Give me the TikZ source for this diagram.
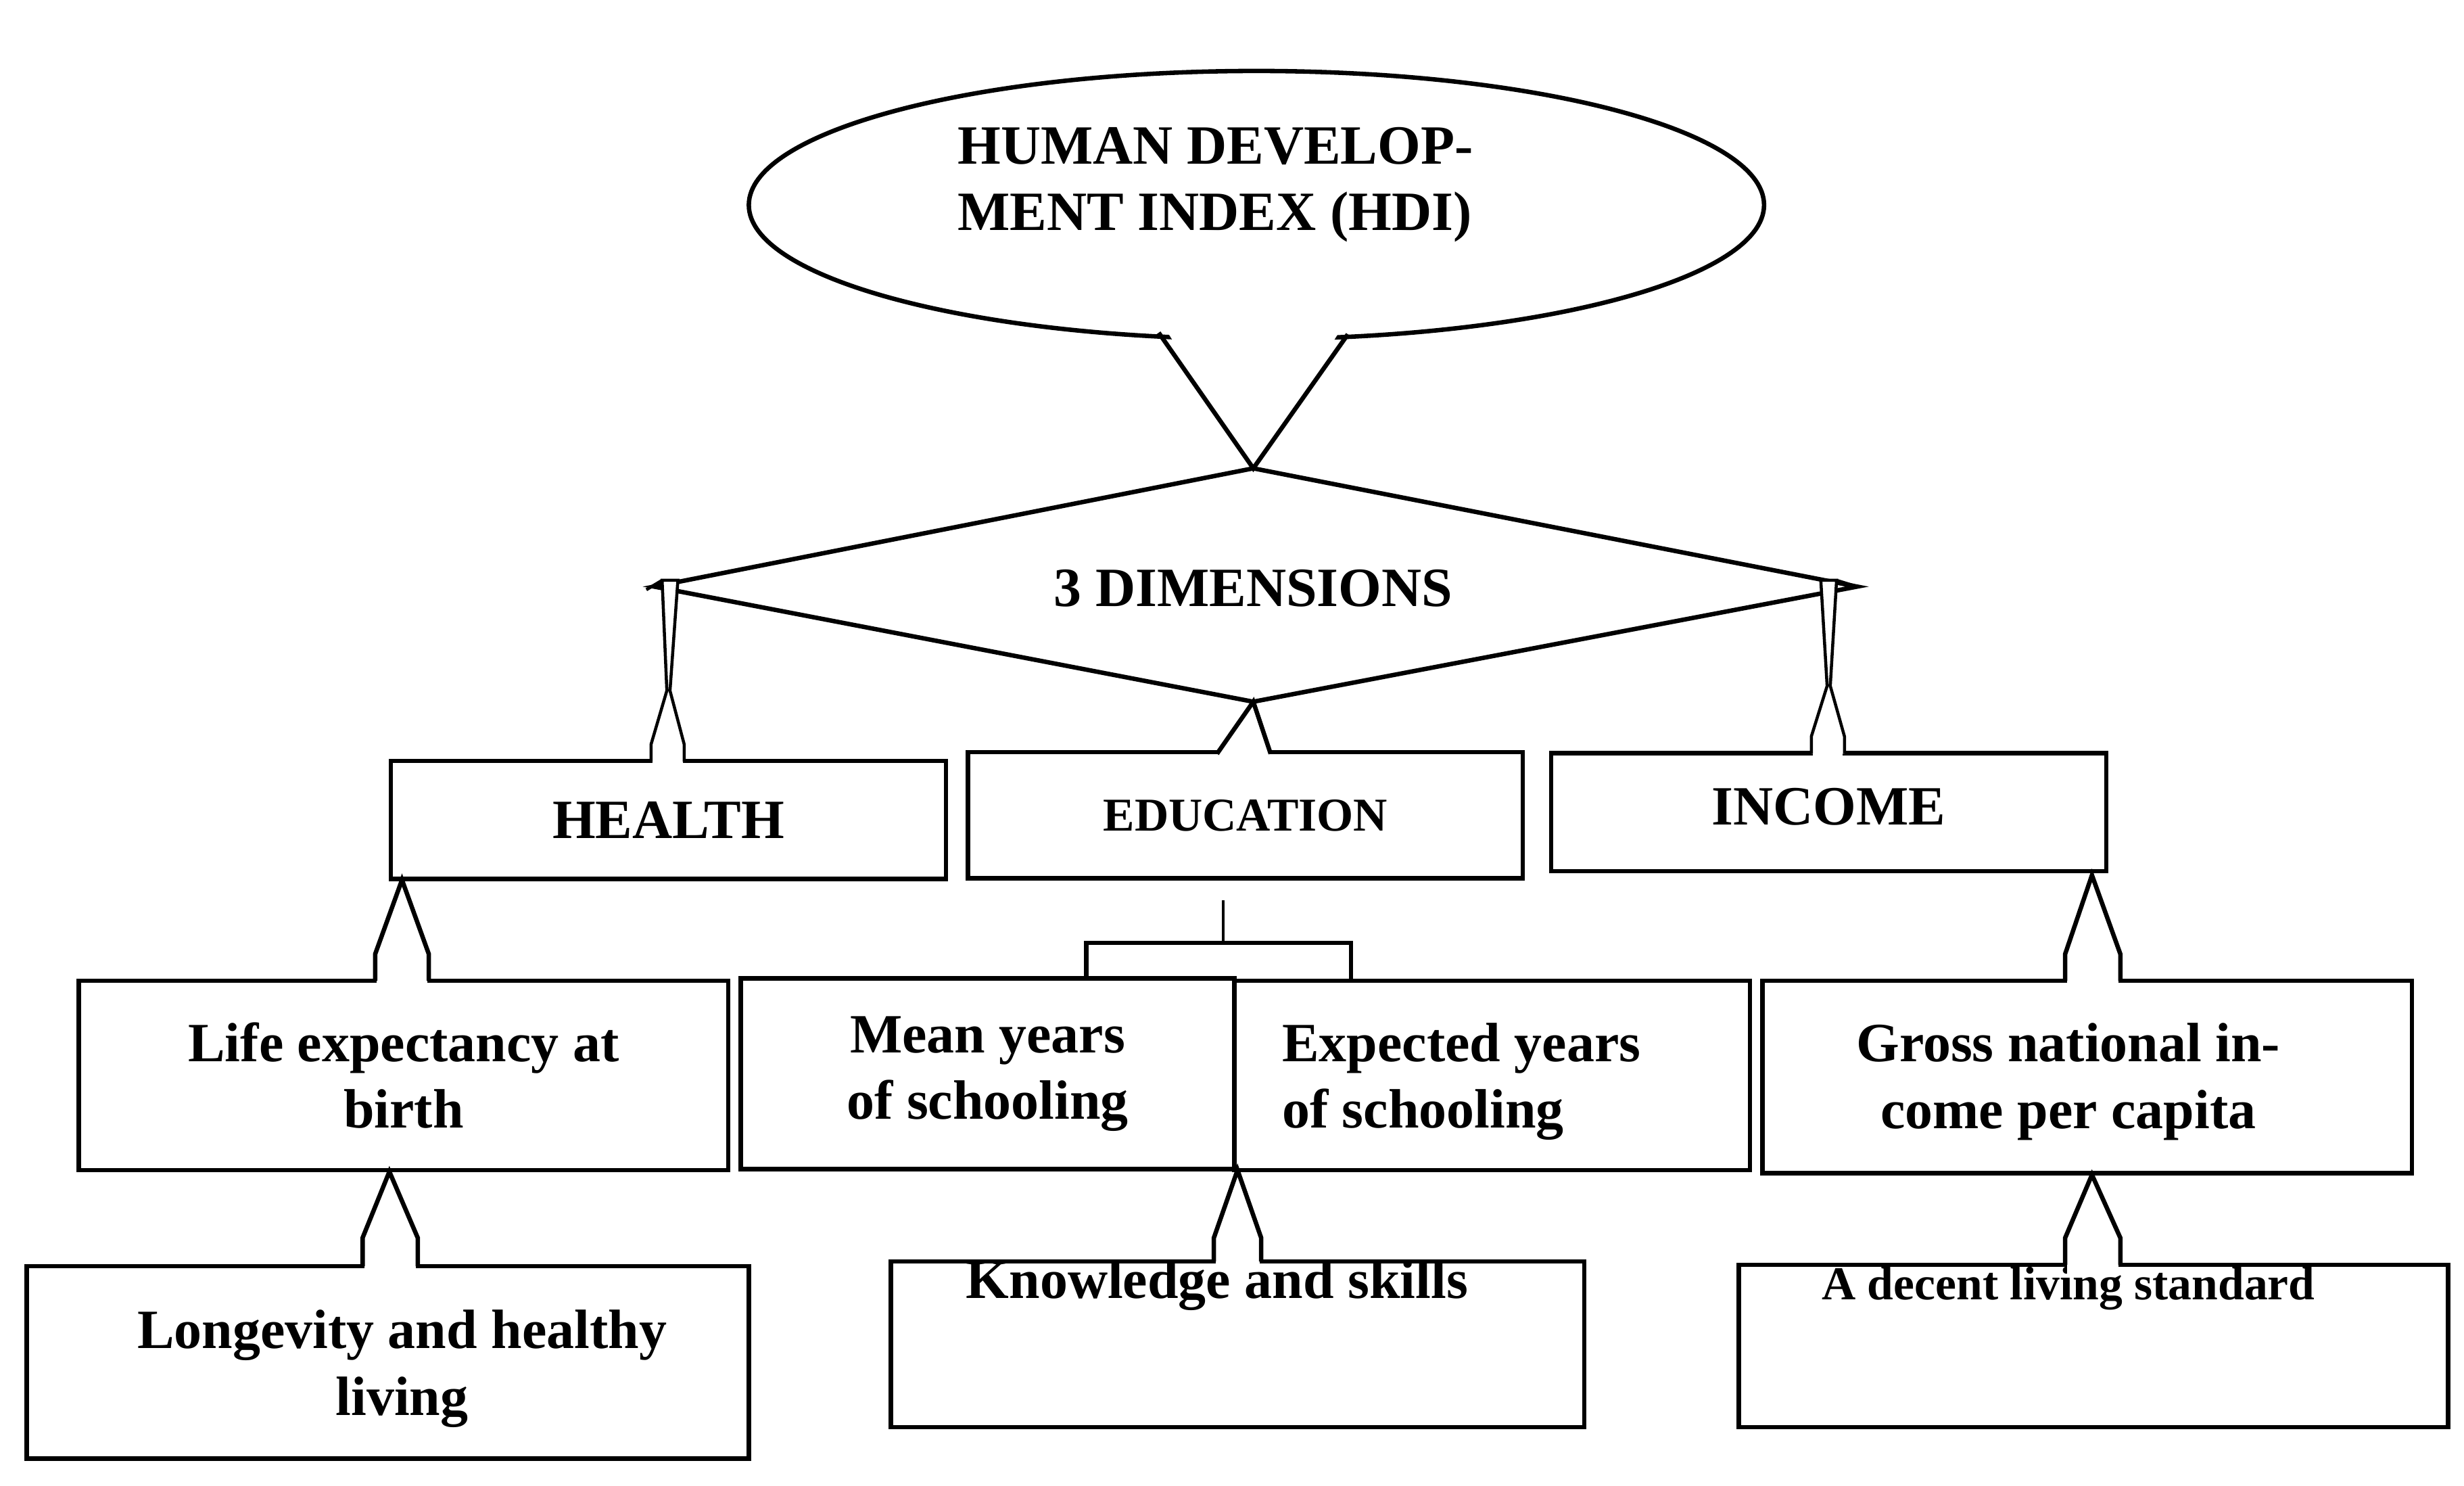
\documentclass[tikz,border=0pt]{standalone}
\usepackage{fontspec}
\setmainfont{Liberation Serif}
\usetikzlibrary{shapes.geometric}
\tikzset{
 box/.style={draw,line width=1.6pt,fill=white,inner sep=0pt,rectangle},
 lbl/.style={font=\fontsize{20}{24}\selectfont\bfseries,align=center,inner sep=0pt},
 sml/.style={font=\fontsize{17}{21}\selectfont\bfseries,align=center,inner sep=0pt},
 ln/.style={line width=1.6pt,line join=miter},
 thin/.style={line width=1.1pt}
}
\newcommand{\mkbox}[5]{\node[box,minimum width=#3*0.02cm,minimum height=#4*0.02cm] (#5) at (#1,#2) {};}
\begin{document}
\begin{tikzpicture}[x=0.02cm,y=-0.02cm]
\useasboundingbox (0,0) rectangle (1563,942.3);
% ellipse
\node[draw,ellipse,line width=1.6pt,minimum width=644*0.02cm,minimum height=170*0.02cm,inner sep=0pt] (hdi) at (797,130) {};
\node[lbl,align=left] (hdit) at (771,117) {HUMAN DEVELOP-\\MENT INDEX (HDI)};
% diamond
\coordinate (dT) at (795,297);
\coordinate (dL) at (415,372);
\coordinate (dR) at (1178,372);
\coordinate (dB) at (795,445);
\draw[ln] (dL) -- (dT) -- (dR) -- (dB) -- cycle;
\node[lbl] (dim) at (795,373) {3 DIMENSIONS};
% ellipse tail
\fill[white] (737,205) -- (853,205) -- (dT) -- cycle;
\draw[ln] (735,211) -- (dT) -- (855,212);
% second row
\mkbox{424}{520}{352}{75}{health}
\mkbox{790}{517}{352}{80}{edu}
\mkbox{1160}{515}{352}{75}{income}
\node[lbl] at (health) {HEALTH};
\node[sml] at (edu) {EDUCATION};
\node[lbl] at ([yshift=2pt]income) {INCOME};
% spikes
\fill[white] (414,474) rectangle (433,487);
\draw[thin,fill=white] (413,483) -- (413,472) -- (423,438) -- (420,368) -- (430,368) -- (425,438) -- (434,472) -- (434,483);
\draw[thin] (410,374) -- (420,368);
\fill[white] (1150,470) rectangle (1169,482);
\draw[thin,fill=white] (1149,478) -- (1149,467) -- (1159,435) -- (1155,368) -- (1165,368) -- (1161,435) -- (1170,467) -- (1170,478);
\draw[thin] (1165,368) -- (1178,372);
% education callout
\fill[white] (773,470) rectangle (805,482);
\draw[ln] (772,478) -- (dB) -- (806,478);
% bracket
\draw[thin] (776,571) -- (776,597);
\draw[ln] (689,622) -- (689,598) -- (857,598) -- (857,622);
% third row
\mkbox{256}{682}{412}{120}{life}
\mkbox{626.5}{681}{313}{121}{mean}
\mkbox{946.5}{682}{327}{120}{exp}
\mkbox{1324}{683}{412}{122}{gni}
\node[lbl] at (life) {Life expectancy at\\birth};
\node[lbl] at (mean) {Mean years\\of schooling};
\node[lbl,align=left,anchor=west] at (813,686) {Expected years\\of schooling};
\node[lbl] at (1312,686) {Gross national in-\\come per capita};
% callouts row3
\fill[white] (239,614) rectangle (271,628);
\draw[ln] (238,622) -- (238,605) -- (255,558) -- (272,605) -- (272,622);
\fill[white] (1311,614) rectangle (1344,628);
\draw[ln] (1310,622) -- (1310,605) -- (1327,555) -- (1345,605) -- (1345,622);
% fourth row
\mkbox{246}{864}{458}{122}{longev}
\mkbox{785}{852.5}{440}{105}{know}
\mkbox{1328}{853.5}{450}{103}{decent}
\node[lbl] at (255,868) {Longevity and healthy\\living};
\node[lbl] at (772,815) {Knowledge and skills};
\node[sml] at (1312,817) {A decent living standard};
\fill[white] (231,795) rectangle (264,809);
\draw[ln] (230,803) -- (230,785) -- (247,743) -- (265,785) -- (265,803);
\fill[white] (771,792) rectangle (799,806);
\draw[ln] (770,800) -- (770,785) -- (785,742) -- (800,785) -- (800,800);
\fill[white] (1311,794) rectangle (1344,808);
\draw[ln] (1310,802) -- (1310,785) -- (1327,745) -- (1345,785) -- (1345,802);
\end{tikzpicture}
\end{document}
